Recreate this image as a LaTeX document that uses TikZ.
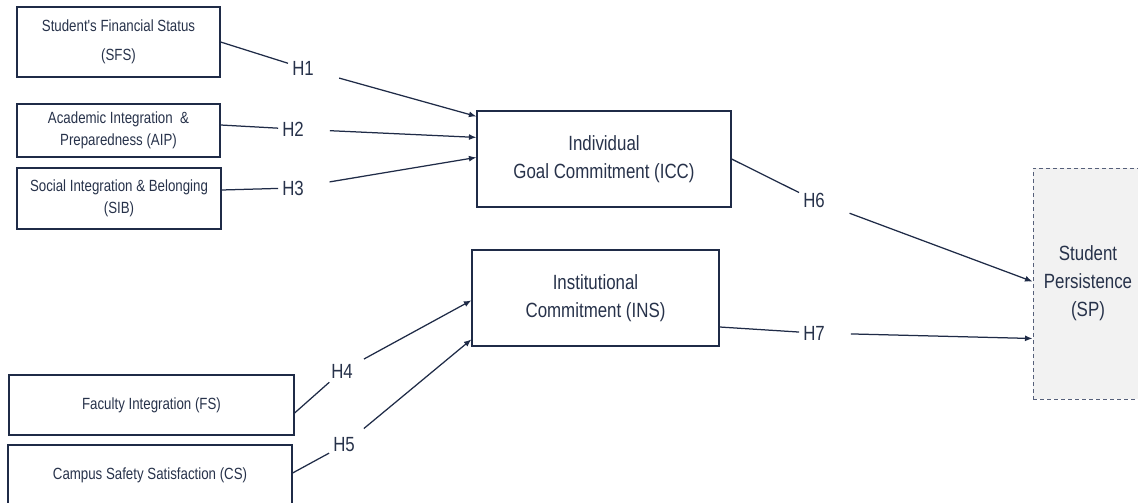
\documentclass[tikz,border=0pt]{standalone}
\usepackage{fontspec}
\setmainfont{Liberation Sans}
\newfontfamily\af[FakeStretch=0.82]{Liberation Sans}
\usetikzlibrary{arrows.meta}
\definecolor{navy}{HTML}{1F2B47}
\definecolor{txt}{HTML}{27324A}
\definecolor{spfill}{HTML}{F2F2F2}
\definecolor{spline}{HTML}{56607A}
\tikzset{
  box/.style={draw=navy, line width=1.2pt, inner sep=0pt, align=center, text=txt},
  smallbox/.style={box, font=\af\fontsize{16.2}{21.5}\selectfont},
  bigbox/.style={box, font=\af\fontsize{20.6}{28}\selectfont},
  hlab/.style={inner sep=4pt, text=txt, font=\af\fontsize{20.5}{22}\selectfont},
  conn/.style={draw=navy, line width=1.25pt},
  arr/.style={conn, -{Latex[length=7.5pt,width=6pt]}, shorten <=22pt},
  arrs/.style={conn, -{Latex[length=7.5pt,width=6pt]}, shorten <=8pt},
}
\begin{document}
\begin{tikzpicture}[x=1pt,y=-1pt]
\useasboundingbox (0,0) rectangle (1138,503);
% boxes
\node[smallbox, minimum width=203pt, minimum height=70pt] (sfs) at (118.5,42) {\raisebox{-4pt}{\parbox{200pt}{\centering\baselineskip=29pt Student's Financial Status\\(SFS)}}};
\node[smallbox, minimum width=203pt, minimum height=53pt] (aip) at (118.5,130.5) {Academic Integration\ \ \&\\Preparedness (AIP)};
\node[smallbox, minimum width=204pt, minimum height=61pt] (sib) at (119,198.5) {Social Integration \& Belonging\\(SIB)};
\node[smallbox, minimum width=285pt, minimum height=60pt] (fs) at (151.5,405) {Faculty Integration (FS)};
\node[smallbox, minimum width=284pt, minimum height=60pt] (cs) at (150,475) {Campus Safety Satisfaction (CS)};
\node[bigbox, minimum width=254pt, minimum height=96pt] (icc) at (604,159) {Individual\\Goal Commitment (ICC)};
\node[bigbox, minimum width=247pt, minimum height=96pt] (ins) at (595.5,298) {Institutional\\Commitment (INS)};
\node[bigbox, draw=spline, dashed, dash pattern=on 4pt off 3pt, fill=spfill, line width=1pt, minimum width=124pt, minimum height=231pt] (sp) at (1095,283.5) {\hspace*{-14pt}\parbox{110pt}{\centering Student\\Persistence\\(SP)}};
% labels
\node[hlab] (h1) at (303,68) {H1};
\node[hlab] (h2) at (293,129) {H2};
\node[hlab] (h3) at (293,188) {H3};
\node[hlab] (h4) at (342,371) {H4};
\node[hlab] (h5) at (344,445) {H5};
\node[hlab] (h6) at (814,200) {H6};
\node[hlab] (h7) at (814,333) {H7};
% connectors
\draw[conn] (sfs.east) -- (h1);
\draw[arr] (h1) -- ([yshift=-6pt]icc.north west);
\draw[conn] ([yshift=5.5pt]aip.east) -- (h2);
\draw[arr] (h2) -- ([yshift=-27pt]icc.north west);
\draw[conn] ([yshift=8.5pt]sib.east) -- (h3);
\draw[arr] (h3) -- ([yshift=-47pt]icc.north west);
\draw[conn] ([yshift=-8pt]fs.east) -- (h4);
\draw[arrs] (h4) -- ([yshift=-51pt]ins.north west);
\draw[conn] ([yshift=2pt]cs.east) -- (h5);
\draw[arrs] (h5) -- ([yshift=-90pt]ins.north west);
\draw[conn] (icc.east) -- (h6);
\draw[arr] (h6) -- ([yshift=-114pt]sp.north west);
\draw[conn] ([yshift=-29pt]ins.east) -- (h7);
\draw[arr] (h7) -- ([yshift=-171pt]sp.north west);
\end{tikzpicture}
\end{document}
